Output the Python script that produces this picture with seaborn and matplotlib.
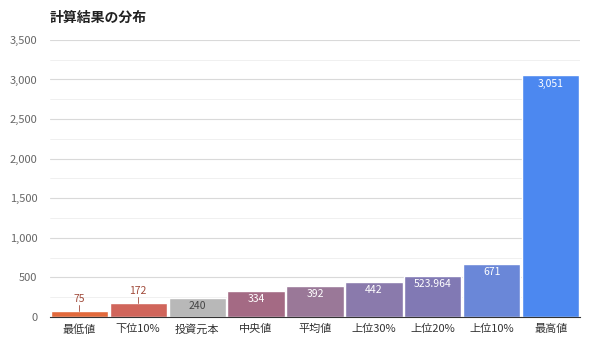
import pandas as pd
import seaborn as sns
import matplotlib.pyplot as plt

categories = ['最低値', '下位10%', '投資元本', '中央値', '平均値', '上位30%', '上位20%', '上位10%', '最高値']
values = [75, 172, 240, 334, 392, 442, 523.964, 671, 3051]
labels = ['75', '172', '240', '334', '392', '442', '523.964', '671', '3,051']
colors = ['#e2693b', '#d0655b', '#b8b8b8', '#a46a84', '#9a7898', '#8a7aac', '#8179b4', '#6a87d8', '#4c88f0']

df = pd.DataFrame({'cat': categories, 'val': values})

sns.set_style('white')
plt.rcParams['font.family'] = ['Noto Sans CJK JP', 'DejaVu Sans']

fig = plt.figure(figsize=(6, 3.53), dpi=100)
ax = fig.add_axes([0.083, 0.102, 0.884, 0.785])
sns.barplot(data=df, x='cat', y='val', hue='cat', palette=colors, legend=False,
            width=0.97, saturation=1, ax=ax)

ax.set_ylim(0, 3500)
ax.set_yticks(range(0, 3501, 500))
ax.set_yticklabels([f'{v:,}' for v in range(0, 3501, 500)])
ax.set_yticks(range(250, 3500, 500), minor=True)
ax.grid(axis='y', which='major', color='#d9d9d9', lw=0.8)
ax.grid(axis='y', which='minor', color='#eeeeee', lw=0.6)
ax.set_axisbelow(True)
ax.tick_params(axis='y', which='both', length=0, labelsize=8, labelcolor='#666666', pad=9)
ax.tick_params(axis='x', length=0, labelsize=8, labelcolor='#333333', pad=5)
ax.set_xlabel('')
ax.set_ylabel('')
for s in ['top', 'right', 'left']:
    ax.spines[s].set_visible(False)
ax.spines['bottom'].set_color('#333333')
ax.spines['bottom'].set_linewidth(0.8)
ax.set_xlim(-0.5, len(categories) - 0.5)

for i, (v, lab) in enumerate(zip(values, labels)):
    if i < 2:
        ax.plot([i, i], [v, v + 80], color='#a04a3a', lw=0.6)
        ax.text(i, v + 95, lab, ha='center', va='bottom', fontsize=7.5, color='#a04a3a')
    elif i == 2:
        ax.text(i, v - 40, lab, ha='center', va='top', fontsize=7.5, color='#444444')
    else:
        ax.text(i, v - 40, lab, ha='center', va='top', fontsize=7.5, color='white')

fig.text(0.083, 0.95, '計算結果の分布', fontsize=10, fontweight='bold', color='#222222', va='center')

plt.savefig('out.png', dpi=100)
